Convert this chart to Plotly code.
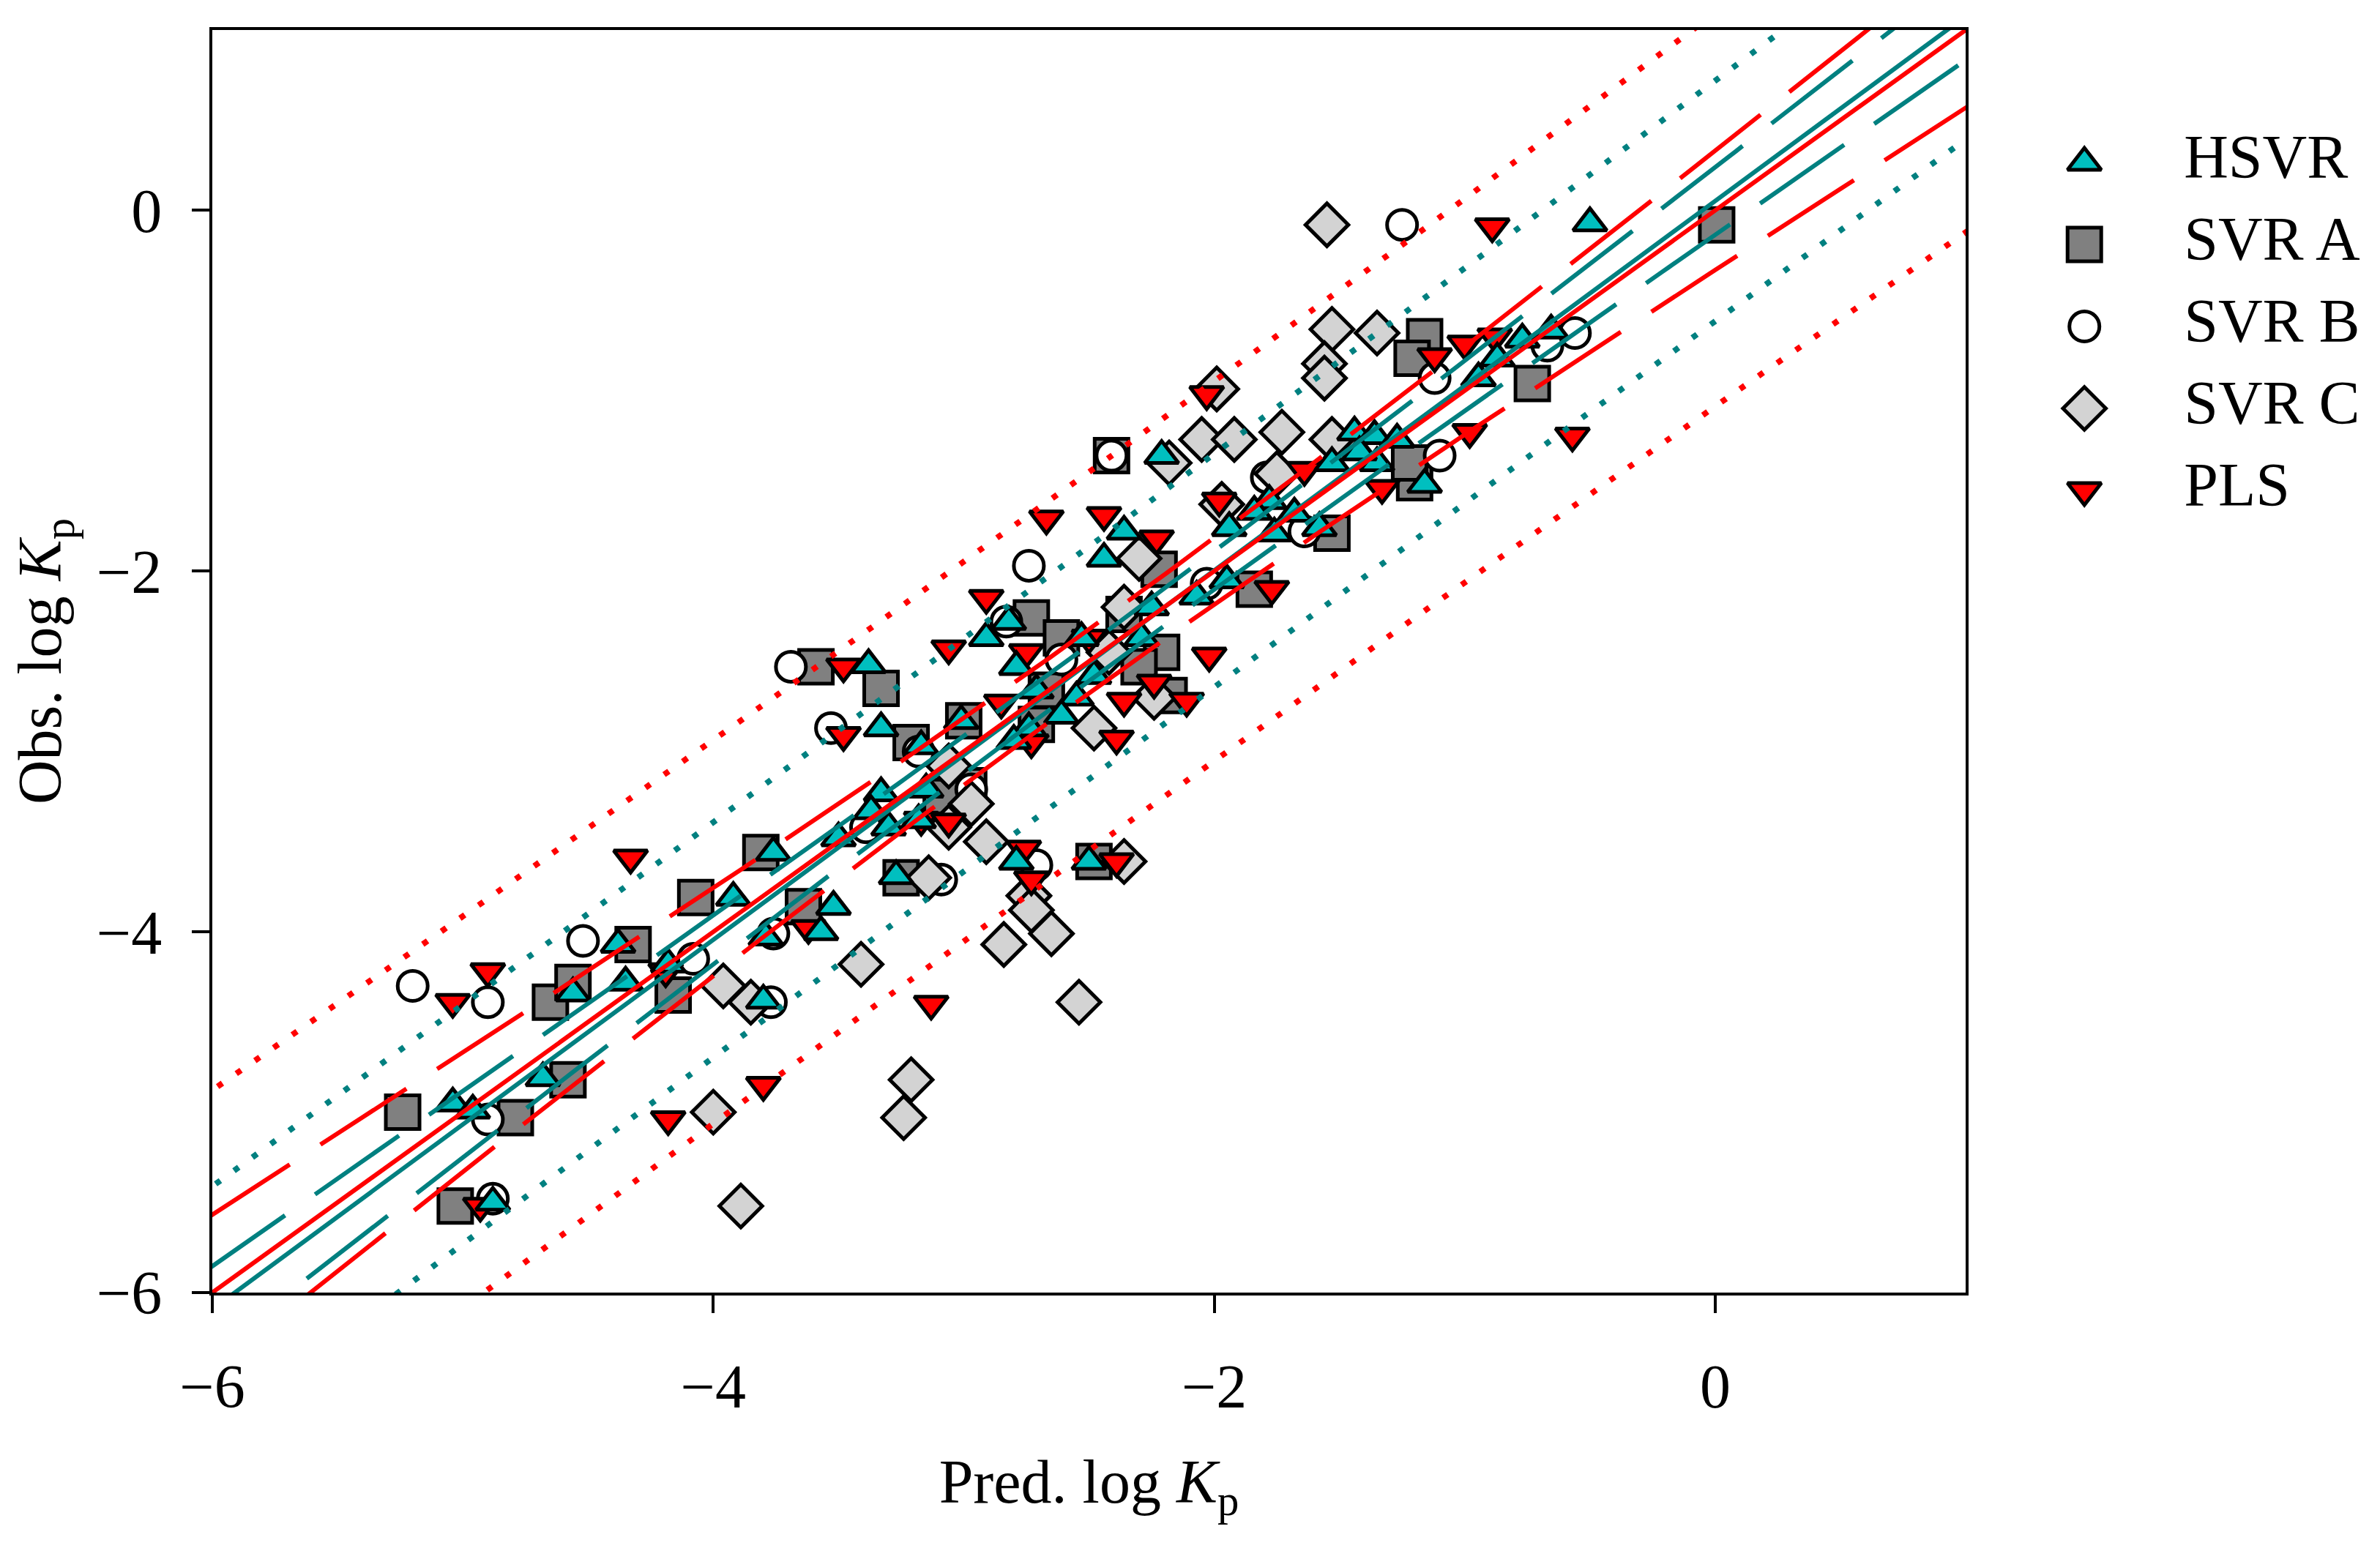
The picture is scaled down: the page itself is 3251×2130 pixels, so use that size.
import numpy as np
import plotly.graph_objects as go

# Dados (Pred. log Kp, Obs. log Kp)
hsvr_pred = [-0.50, -0.655, -0.77, -0.87, -0.945, -1.16, -1.44, -1.36, -1.27, -1.35, -1.53, -1.42,
             -1.58, -1.68, -1.78, -1.84, -1.76, -1.94, -1.95, -2.07, -2.21, -2.36, -2.44, -2.25,
             -2.29, -2.53, -2.48, -2.55, -2.61, -2.82, -2.91, -2.79, -2.71, -2.74, -2.80, -3.01,
             -3.17, -3.33, -3.38, -3.15, -3.33, -3.37, -3.30, -3.18, -3.50, -3.27, -3.76, -3.92,
             -3.52, -3.57, -3.79, -2.79, -2.50, -4.38, -4.18, -4.35, -4.56, -3.80, -4.68, -5.04,
             -4.96, -4.88]
hsvr_obs = [-0.07, -0.665, -0.715, -0.82, -0.93, -1.52, -1.23, -1.25, -1.27, -1.40, -1.40, -1.34,
            -1.76, -1.68, -1.61, -1.67, -1.79, -1.76, -2.05, -2.14, -1.36, -1.78, -1.93, -2.20,
            -2.37, -2.37, -2.58, -2.70, -2.80, -2.28, -2.37, -2.53, -2.66, -2.87, -2.94, -2.83,
            -2.97, -2.87, -2.52, -3.21, -3.23, -3.33, -3.42, -3.38, -3.48, -3.69, -3.56, -3.81,
            -3.86, -4.00, -4.03, -3.61, -3.61, -4.07, -4.18, -4.28, -4.34, -4.38, -4.81, -4.95,
            -4.99, -5.50]

svra_pred = [0.006, -0.73, -1.16, -1.21, -1.20, -1.22, -1.53, -1.84, -2.41, -2.22, -2.21, -2.18,
             -2.73, -2.67, -2.71, -3.00, -3.21, -2.98, -3.59, -3.33, -3.25, -2.48, -3.81, -3.64,
             -4.07, -4.32, -4.16, -4.65, -4.56, -4.58, -4.79, -5.24, -5.03, -2.36, -2.61, -2.30,
             -3.09]
svra_obs = [-0.08, -0.96, -0.70, -0.82, -1.51, -1.40, -1.79, -2.10, -1.36, -1.99, -2.45, -2.69,
            -2.26, -2.66, -2.85, -2.83, -2.95, -3.19, -2.53, -2.65, -3.70, -3.61, -3.56, -3.86,
            -3.81, -4.07, -4.35, -4.39, -4.28, -4.82, -5.03, -5.00, -5.52, -2.24, -2.37, -2.53,
            -3.25]

svrb_pred = [-1.25, -0.56, -0.67, -1.12, -2.41, -2.74, -2.83, -3.69, -3.53, -3.09, -2.71, -3.76,
             -3.77, -4.52, -4.08, -5.20, -4.90, -4.90, -4.88, -1.64, -3.18, -3.39, -2.61, -1.79,
             -1.10, -2.03, -2.97]
svrb_obs = [-0.08, -0.68, -0.75, -0.93, -1.36, -1.97, -2.28, -2.53, -2.87, -3.71, -3.63, -4.01,
            -4.39, -4.05, -4.15, -4.30, -4.39, -5.04, -5.48, -1.78, -3.00, -3.42, -2.49, -1.48,
            -1.36, -2.07, -3.21]

svrc_pred = [-1.55, -1.53, -1.56, -1.56, -1.35, -1.99, -2.05, -1.92, -1.73, -1.75, -1.53, -1.97,
             -2.18, -2.30, -2.36, -2.48, -2.97, -3.06, -2.91, -3.14, -2.74, -2.73, -2.84, -2.65,
             -2.36, -2.54, -3.41, -3.96, -3.85, -4.00, -3.21, -3.24, -3.89, -2.42, -2.24, -3.06]
svrc_obs = [-0.08, -0.66, -0.85, -0.93, -0.68, -0.99, -1.27, -1.27, -1.23, -1.46, -1.27, -1.63,
            -1.40, -1.93, -2.20, -2.87, -3.29, -3.42, -3.50, -3.70, -3.80, -3.88, -4.07, -4.01,
            -3.61, -4.39, -4.18, -4.30, -4.39, -5.00, -4.82, -5.03, -5.52, -2.45, -2.70, -3.08]

pls_pred = [-0.89, -0.57, -0.98, -0.88, -1.00, -1.12, -1.33, -1.64, -1.77, -1.98, -2.03, -2.02,
            -2.11, -2.23, -2.44, -2.67, -2.24, -2.36, -2.39, -2.50, -2.91, -3.06, -2.75, -2.85,
            -2.73, -3.48, -3.48, -3.17, -3.06, -2.39, -2.76, -2.73, -4.33, -3.62, -4.19, -4.90,
            -5.04, -3.13, -3.80, -4.18, -4.93]
pls_obs = [-0.09, -1.25, -1.23, -0.70, -0.74, -0.81, -1.54, -1.44, -2.10, -1.61, -1.02, -2.47,
           -2.72, -1.82, -1.69, -1.71, -2.62, -2.72, -2.93, -2.37, -2.15, -2.43, -2.45, -2.73,
           -2.95, -2.53, -2.91, -3.38, -3.39, -3.61, -3.54, -3.71, -3.59, -3.98, -4.22, -4.22,
           -4.39, -4.40, -4.85, -5.04, -5.52]

# Retas de regressao com faixas de confianca e de predicao (HSVR, PLS)
fit_intercept = [0.052, 0.0]
fit_slope = [1.024, 1.0]
fit_center = [-2.55, -2.5]
fit_conf_min = [0.10, 0.176]
fit_conf_k = [0.062, 0.112]
fit_pred_min = [0.644, 1.049]
fit_color = ['#008080', '#FF0000']

tick_vals = [-6, -4, -2, 0]

FONT = 'Liberation Serif'
FS = 84

series = [
    ('SVR A', svra_pred, svra_obs, 'square', '#808080', 46),
    ('SVR B', svrb_pred, svrb_obs, 'circle', '#FFFFFF', 41),
    ('SVR C', svrc_pred, svrc_obs, 'diamond', '#D3D3D3', 45),
    ('PLS', pls_pred, pls_obs, 'triangle-down', '#FF0000', 40),
    ('HSVR', hsvr_pred, hsvr_obs, 'triangle-up', '#00BFBF', 40),
]
legend_order = ['HSVR', 'SVR A', 'SVR B', 'SVR C', 'PLS']

fig = go.Figure()

# Pontos
for name, xp, yo, sym, col, sz in series:
    fig.add_trace(go.Scatter(x=xp, y=yo, mode='markers', name=name, showlegend=False,
                             marker=dict(symbol=sym, size=sz, color=col,
                                         line=dict(color='black', width=5))))

# Linhas
xx = np.linspace(-6.5, 1.5, 300)
for a, b, xc, w0, k, p0, col in zip(fit_intercept, fit_slope, fit_center, fit_conf_min,
                                    fit_conf_k, fit_pred_min, fit_color):
    yfit = a + b * xx
    conf = np.sqrt(w0 ** 2 + (k * (xx - xc)) ** 2)
    pred = np.sqrt(p0 ** 2 - w0 ** 2 + conf ** 2)
    for yy in (yfit + pred, yfit - pred):
        fig.add_trace(go.Scatter(x=xx, y=yy, mode='lines', showlegend=False, hoverinfo='skip',
                                 line=dict(color=col, width=8, dash='8px,23px')))
    for yy in (yfit + conf, yfit - conf):
        fig.add_trace(go.Scatter(x=xx, y=yy, mode='lines', showlegend=False, hoverinfo='skip',
                                 line=dict(color=col, width=6, dash='140px,50px')))
for a, b, col in zip(fit_intercept, fit_slope, fit_color):
    fig.add_trace(go.Scatter(x=xx, y=a + b * xx, mode='lines', showlegend=False, hoverinfo='skip',
                             line=dict(color=col, width=6)))

# Legenda (eixo auxiliar para manter o tamanho dos simbolos)
lookup = {s[0]: s for s in series}
for i, name in enumerate(legend_order):
    _, _, _, sym, col, sz = lookup[name]
    fig.add_trace(go.Scatter(x=[0.111], y=[-i], xaxis='x2', yaxis='y2', mode='markers',
                             showlegend=False, hoverinfo='skip',
                             marker=dict(symbol=sym, size=sz, color=col,
                                         line=dict(color='black', width=5))))
fig.add_trace(go.Scatter(x=[0.418] * len(legend_order), y=[-i for i in range(len(legend_order))],
                         xaxis='x2', yaxis='y2', mode='text', text=legend_order,
                         textposition='middle right', showlegend=False, hoverinfo='skip',
                         textfont=dict(family=FONT, size=FS, color='black')))

axis_common = dict(range=[-6, 1], tickvals=tick_vals, ticks='outside', ticklen=24, tickwidth=4,
                   tickcolor='black', showline=True, linewidth=4, linecolor='black', mirror=True,
                   showgrid=False, zeroline=False,
                   tickfont=dict(family=FONT, size=FS, color='black'))

# a pagina tem margem de 8 px no body: figura um pouco menor e deslocada
fig.update_layout(
    width=3243, height=2122,
    margin=dict(l=282, r=10, t=33, b=364),
    plot_bgcolor='white', paper_bgcolor='white',
    font=dict(family=FONT, size=FS, color='black'),
    showlegend=False,
    xaxis=dict(domain=[0, 0.8116], ticklabelstandoff=28,
               title=dict(text='Pred. log <i>K</i><sub>p</sub>', standoff=55,
                          font=dict(family=FONT, size=FS)),
               **axis_common),
    yaxis=dict(ticklabelstandoff=24,
               title=dict(text='Obs. log <i>K</i><sub>p</sub>', standoff=38,
                          font=dict(family=FONT, size=FS)),
               **axis_common),
    xaxis2=dict(domain=[0.8499, 1.0], range=[0, 1], visible=False, anchor='y2'),
    yaxis2=dict(domain=[0.6029, 0.9275], range=[-4.5, 0.5], visible=False, anchor='x2'),
)

fig.write_html('out.html')
